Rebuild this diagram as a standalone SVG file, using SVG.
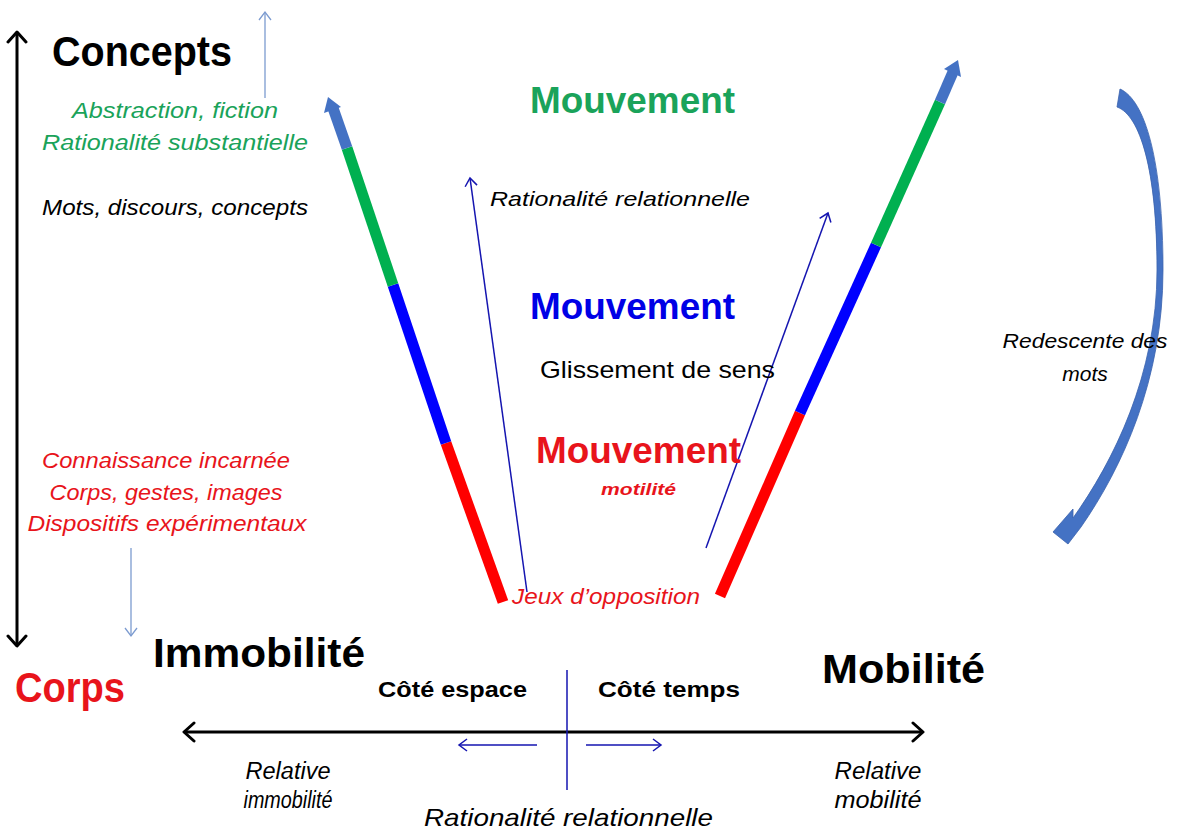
<svg xmlns="http://www.w3.org/2000/svg" width="1177" height="832" viewBox="0 0 1177 832">
<style>
text{font-family:"Liberation Sans",Arial,sans-serif}
.b{font-weight:bold}
.i{font-style:italic}
.mid{text-anchor:middle}
.green{fill:#1AA35A}
.red{fill:#E8141B}
.blk{fill:#000}
.bar{stroke-width:11;fill:none;stroke-linecap:butt}
.thin{stroke:#1515B0;stroke-width:1.5;fill:none}
.pale{stroke:#7C9BD0;stroke-width:1.3;fill:none}
.axis{stroke:#000;stroke-width:3;fill:none}
</style>
<defs>
<marker id="vBlack" viewBox="-12 -11 14 22" refX="0" refY="0" markerWidth="14" markerHeight="22" markerUnits="userSpaceOnUse" orient="auto-start-reverse">
<path d="M-10,-9 L0,0 L-10,9" stroke="#000" stroke-width="3" fill="none" stroke-linecap="round" stroke-linejoin="round"/>
</marker>
<marker id="vBlue" viewBox="-10 -8 12 16" refX="0" refY="0" markerWidth="12" markerHeight="16" markerUnits="userSpaceOnUse" orient="auto">
<path d="M-8,-6 L0,0 L-8,6" stroke="#1515B0" stroke-width="1.5" fill="none"/>
</marker>
<marker id="vPale" viewBox="-10 -8 12 16" refX="0" refY="0" markerWidth="12" markerHeight="16" markerUnits="userSpaceOnUse" orient="auto">
<path d="M-8,-6 L0,0 L-8,6" stroke="#7C9BD0" stroke-width="1.3" fill="none"/>
</marker>
</defs>
<rect width="1177" height="832" fill="#fff"/>

<g id="connectors">
<line class="axis" x1="17" y1="32" x2="17" y2="646" marker-start="url(#vBlack)" marker-end="url(#vBlack)"/>
<line class="axis" x1="184" y1="732" x2="923" y2="732" marker-start="url(#vBlack)" marker-end="url(#vBlack)"/>
<line class="pale" x1="265" y1="98" x2="265" y2="12" marker-end="url(#vPale)"/>
<line class="pale" x1="131" y1="548" x2="131" y2="636" marker-end="url(#vPale)"/>
<line class="thin" x1="527" y1="592" x2="470" y2="178" marker-end="url(#vBlue)"/>
<line class="thin" x1="706" y1="548" x2="828" y2="213" marker-end="url(#vBlue)"/>
<line class="thin" x1="567" y1="670" x2="567" y2="790"/>
<line class="thin" x1="537" y1="745" x2="459" y2="745" marker-end="url(#vBlue)"/>
<line class="thin" x1="586" y1="745" x2="661" y2="745" marker-end="url(#vBlue)"/>
<line class="bar" stroke="#FF0000" x1="503" y1="602" x2="446" y2="443"/>
<line class="bar" stroke="#0000FF" x1="446" y1="443" x2="393" y2="285"/>
<line class="bar" stroke="#00B050" x1="393" y1="285" x2="347" y2="148"/>
<line class="bar" stroke="#4472C4" x1="347" y1="148" x2="333" y2="108"/>
<polygon points="328,97 341,107 324,113" fill="#4472C4"/>
<line class="bar" stroke="#FF0000" x1="720" y1="596" x2="800" y2="413"/>
<line class="bar" stroke="#0000FF" x1="800" y1="413" x2="876" y2="245"/>
<line class="bar" stroke="#00B050" x1="876" y1="245" x2="940" y2="102"/>
<line class="bar" stroke="#4472C4" x1="940" y1="102" x2="953" y2="72"/>
<polygon points="958,60 961,77 944,69" fill="#4472C4"/>
<path d="M1120,89 C1145,100 1163,160 1163,270 C1163,380 1122,468 1081,527 L1068,544 L1053,532 L1073,509 L1073,518 C1113,462 1157,375 1157,270 C1157,170 1140,115 1117,107 Z" fill="#4472C4" stroke="#3A62AD" stroke-width="0.8"/>
</g>

<g id="n-concepts"><text class="b blk" x="52" y="66" font-size="42" textLength="180" lengthAdjust="spacingAndGlyphs">Concepts</text></g>
<g id="n-abstraction">
<text class="i green mid" x="175" y="118" font-size="22" textLength="206" lengthAdjust="spacingAndGlyphs">Abstraction, fiction</text>
<text class="i green mid" x="175" y="150" font-size="22" textLength="266" lengthAdjust="spacingAndGlyphs">Rationalité substantielle</text>
</g>
<g id="n-mots"><text class="i blk mid" x="175" y="215" font-size="22" textLength="266" lengthAdjust="spacingAndGlyphs">Mots, discours, concepts</text></g>
<g id="n-mouv-green"><text class="b green" x="530" y="113" font-size="36" textLength="205" lengthAdjust="spacingAndGlyphs">Mouvement</text></g>
<g id="n-rat-top"><text class="i blk" x="490" y="206" font-size="21" textLength="260" lengthAdjust="spacingAndGlyphs">Rationalité relationnelle</text></g>
<g id="n-mouv-blue"><text class="b" fill="#0000E6" x="530" y="319" font-size="36" textLength="205" lengthAdjust="spacingAndGlyphs">Mouvement</text></g>
<g id="n-glissement"><text class="blk" x="540" y="378" font-size="24" textLength="235" lengthAdjust="spacingAndGlyphs">Glissement de sens</text></g>
<g id="n-mouv-red">
<text class="b red" x="536" y="463" font-size="36" textLength="205" lengthAdjust="spacingAndGlyphs">Mouvement</text>
<text class="b i red" x="601" y="495" font-size="16" textLength="75" lengthAdjust="spacingAndGlyphs">motilité</text>
</g>
<g id="n-jeux"><text class="i red" x="512" y="604" font-size="22" textLength="188" lengthAdjust="spacingAndGlyphs">Jeux d’opposition</text></g>
<g id="n-redescente">
<text class="i blk mid" x="1085" y="348" font-size="21" textLength="165" lengthAdjust="spacingAndGlyphs">Redescente des</text>
<text class="i blk mid" x="1085" y="381" font-size="21">mots</text>
</g>
<g id="n-connaissance">
<text class="i red mid" x="166" y="468" font-size="22" textLength="248" lengthAdjust="spacingAndGlyphs">Connaissance incarnée</text>
<text class="i red mid" x="166" y="500" font-size="22" textLength="233" lengthAdjust="spacingAndGlyphs">Corps, gestes, images</text>
<text class="i red mid" x="167" y="531" font-size="22" textLength="279" lengthAdjust="spacingAndGlyphs">Dispositifs expérimentaux</text>
</g>
<g id="n-corps"><text class="b red" x="15" y="702" font-size="42" textLength="110" lengthAdjust="spacingAndGlyphs">Corps</text></g>
<g id="n-immobilite"><text class="b blk" x="153" y="667" font-size="40" textLength="212" lengthAdjust="spacingAndGlyphs">Immobilité</text></g>
<g id="n-mobilite"><text class="b blk" x="822" y="683" font-size="40" textLength="163" lengthAdjust="spacingAndGlyphs">Mobilité</text></g>
<g id="n-espace"><text class="b blk" x="378" y="697" font-size="22" textLength="149" lengthAdjust="spacingAndGlyphs">Côté espace</text></g>
<g id="n-temps"><text class="b blk" x="598" y="697" font-size="22" textLength="142" lengthAdjust="spacingAndGlyphs">Côté temps</text></g>
<g id="n-rel-immo">
<text class="i blk mid" x="288" y="779" font-size="23" textLength="85" lengthAdjust="spacingAndGlyphs">Relative</text>
<text class="i blk mid" x="288" y="808" font-size="23" textLength="89" lengthAdjust="spacingAndGlyphs">immobilité</text>
</g>
<g id="n-rel-mob">
<text class="i blk mid" x="878" y="779" font-size="23" textLength="87" lengthAdjust="spacingAndGlyphs">Relative</text>
<text class="i blk mid" x="878" y="808" font-size="23" textLength="87" lengthAdjust="spacingAndGlyphs">mobilité</text>
</g>
<g id="n-rat-bottom"><text class="i blk" x="424" y="826" font-size="24" textLength="289" lengthAdjust="spacingAndGlyphs">Rationalité relationnelle</text></g>
</svg>
